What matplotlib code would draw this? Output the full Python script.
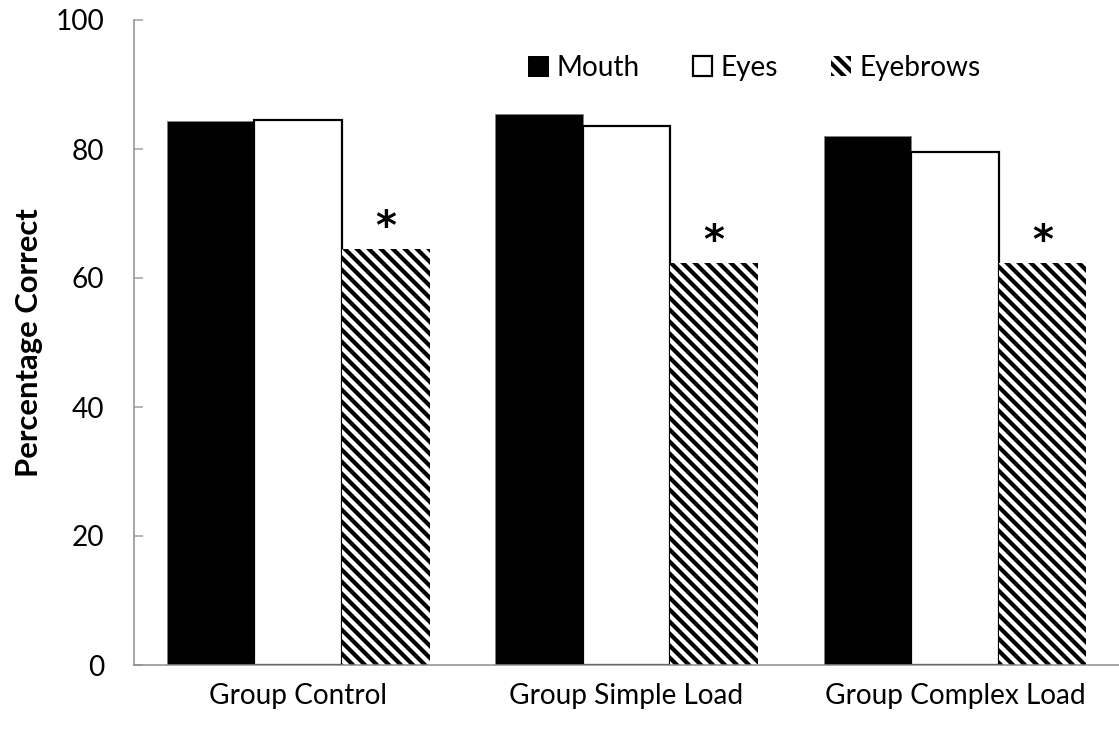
import numpy as np
import matplotlib.pyplot as plt
from matplotlib.patches import Patch

plt.rcParams['font.family'] = ['Lato', 'DejaVu Sans']
plt.rcParams['hatch.linewidth'] = 4.2

# Data
groups = ["Group Control", "Group Simple Load", "Group Complex Load"]
mouth = [84.3, 85.4, 82.0]
eyes = [84.5, 83.6, 79.5]
eyebrows = [64.5, 62.3, 62.3]
y_ticks = [0, 20, 40, 60, 80, 100]

fig = plt.figure(figsize=(1119 / 72, 729 / 72), dpi=72)
ax = fig.add_axes([134 / 1119, 64 / 729, 1 - 134 / 1119, 645 / 729])

x = np.arange(len(groups))
w = 0.8 / 3

ax.bar(x - w, mouth, w, color="black", edgecolor="#7f7f7f", linewidth=0.8)
ax.bar(x, eyes, w, color="white", edgecolor="black", linewidth=2.2)
ax.bar(x + w, eyebrows, w, color="white", edgecolor="black", hatch="\\\\", linewidth=0)

# significance stars
for xi, v in zip(x + w, eyebrows):
    ax.text(xi, v + 3.3, "*", ha="center", va="center", fontsize=40,
            family="DejaVu Sans", fontweight="bold", color="black")

ax.set_xlim(-0.5, 2.5)
ax.set_ylim(0, 100)
ax.set_yticks(y_ticks)
ax.set_xticks(x)
ax.set_xticklabels(groups)
ax.tick_params(axis="y", direction="in", length=9, width=1.5, color="#a0a0a0",
               labelsize=28, pad=30)
ax.tick_params(axis="x", length=0, labelsize=28, pad=18)
for s in ["top", "right"]:
    ax.spines[s].set_visible(False)
for s in ["left", "bottom"]:
    ax.spines[s].set_color("#8c8c8c")
    ax.spines[s].set_linewidth(1.5)

ax.set_ylabel("Percentage Correct", fontsize=31, fontweight="bold", labelpad=12)

handles = [Patch(facecolor="black", edgecolor="black", label="Mouth"),
           Patch(facecolor="white", edgecolor="black", linewidth=2.2, label="Eyes"),
           Patch(facecolor="white", edgecolor="black", hatch="\\\\", linewidth=0, label="Eyebrows")]
ax.legend(handles=handles, loc="upper right", bbox_to_anchor=(0.885, 0.985), ncol=3,
          frameon=False, fontsize=28, handlelength=0.7, handleheight=0.7,
          handletextpad=0.3, columnspacing=1.9)

fig.savefig("out.png", dpi=72)
